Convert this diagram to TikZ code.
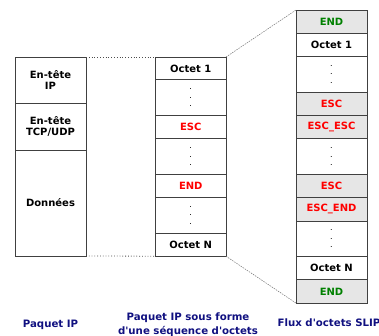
\documentclass[tikz,border=0pt]{standalone}
\usepackage{fontspec}
\setmainfont{DejaVu Sans}
\usepackage{tikz}
\usetikzlibrary{positioning}
\definecolor{escred}{RGB}{255,0,0}
\definecolor{endgreen}{RGB}{0,128,0}
\definecolor{lblblue}{RGB}{16,16,128}
\definecolor{cellgray}{RGB}{230,230,230}

\begin{document}
\begin{tikzpicture}[
    x=1pt, y=-1pt,
    cell/.style={draw=black!75, line width=0.8pt, outer sep=0pt, inner sep=0pt, minimum width=71pt, minimum height=23.4pt, align=center, font=\fontsize{10}{11.5}\selectfont\bfseries},
    dotcell/.style={cell, minimum height=35.3pt, font=\fontsize{8}{8.7}\selectfont},
    midcell/.style={cell, minimum width=70.5pt, minimum height=22.8pt},
    middots/.style={dotcell, minimum width=70.5pt, minimum height=36pt},
    graycell/.style={cell, fill=cellgray},
    lbl/.style={align=center, text=lblblue, font=\fontsize{10.2}{14}\selectfont\bfseries}
]
\useasboundingbox (0,0) rectangle (379,336);

% Paquet IP
\node[cell, anchor=north west, minimum height=46pt] (iphead) at (15,57) {En-tête\\IP};
\node[cell, below=0pt of iphead, minimum height=47pt] (tcphead) {En-tête\\TCP/UDP};
\node[cell, below=0pt of tcphead, minimum height=106pt] (data) {Données};

% Sequence d'octets
\node[midcell, anchor=north west] (mfirst) at (155.5,57) {Octet 1};
\node[middots, below=0pt of mfirst] (mdots1) {.\\.\\.};
\node[midcell, below=0pt of mdots1, text=escred] (mesc) {ESC};
\node[middots, below=0pt of mesc] (mdots2) {.\\.\\.};
\node[midcell, below=0pt of mdots2, text=escred] (mend) {END};
\node[middots, below=0pt of mend] (mdots3) {.\\.\\.};
\node[midcell, below=0pt of mdots3] (mlast) {Octet N};

% Flux SLIP
\node[graycell, anchor=north west, text=endgreen] (sstart) at (296,10) {END};
\node[cell, below=0pt of sstart] (sfirst) {Octet 1};
\node[dotcell, below=0pt of sfirst] (sdots1) {.\\.\\.};
\node[graycell, below=0pt of sdots1, text=escred] (sesc1) {ESC};
\node[graycell, below=0pt of sesc1, text=escred] (sescesc) {ESC\_ESC};
\node[dotcell, below=0pt of sescesc] (sdots2) {.\\.\\.};
\node[graycell, below=0pt of sdots2, text=escred] (sesc2) {ESC};
\node[graycell, below=0pt of sesc2, text=escred] (sescend) {ESC\_END};
\node[dotcell, below=0pt of sescend] (sdots3) {.\\.\\.};
\node[cell, below=0pt of sdots3] (slast) {Octet N};
\node[graycell, below=0pt of slast, text=endgreen] (send) {END};

% Liens
\draw[black!70, dotted, line width=0.8pt] (iphead.north east) -- (mfirst.north west);
\draw[black!70, dotted, line width=0.8pt] (data.south east) -- (mlast.south west);
\draw[black!55, dashed, line width=0.5pt, dash pattern=on 1.5pt off 1pt] (mfirst.north east) -- (sstart.north west);
\draw[black!55, dashed, line width=0.5pt, dash pattern=on 1.5pt off 1pt] (mlast.south east) -- (send.south west);

% Labels
\node[lbl] (lblip) at (50.5,325) {Paquet IP};
\node[lbl] (lblseq) at (188,324.5) {Paquet IP sous forme\\d\textquotesingle une séquence d\textquotesingle octets};
\node[lbl] (lblslip) at (329,323) {Flux d\textquotesingle octets SLIP};

\end{tikzpicture}
\end{document}
